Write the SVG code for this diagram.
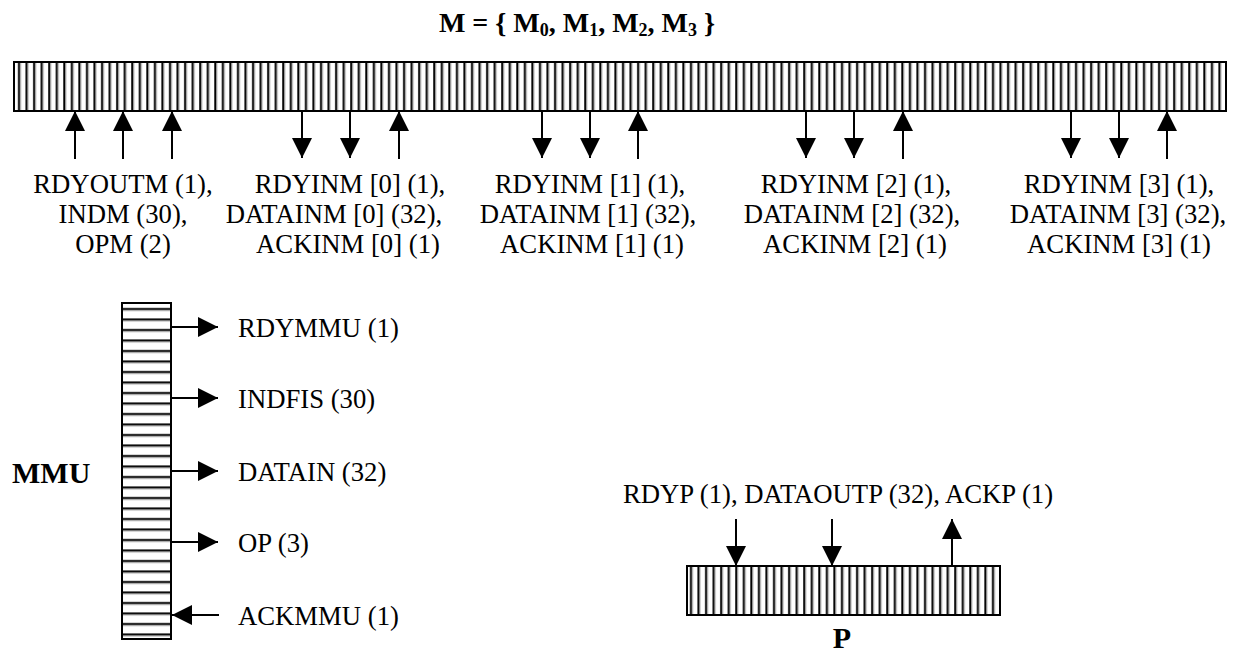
<svg xmlns="http://www.w3.org/2000/svg" width="1240" height="655" viewBox="0 0 1240 655">
<style>
.lbl{font-family:"Liberation Serif","Times New Roman",serif;font-size:26.7px;fill:#000}
.bold{font-family:"Liberation Serif","Times New Roman",serif;font-size:30px;font-weight:bold;fill:#000}
.title{font-family:"Liberation Serif","Times New Roman",serif;font-size:28px;font-weight:bold;fill:#000}
.bar{stroke:#000;stroke-width:2}
.wire{stroke:#000;stroke-width:2;fill:none}
</style>
<defs>
<pattern id="vstripe" patternUnits="userSpaceOnUse" x="14" y="0" width="7.55" height="20">
<rect width="7.55" height="20" fill="#fff"/>
<rect x="4" y="0" width="2" height="20" fill="#000"/>
<rect x="6" y="0" width="0.9" height="20" fill="#888"/>
</pattern>
<pattern id="hstripe" patternUnits="userSpaceOnUse" x="0" y="303" width="20" height="10.5">
<rect width="20" height="10.5" fill="#fff"/>
<rect x="0" y="5" width="20" height="2" fill="#000"/>
<rect x="0" y="7" width="20" height="0.9" fill="#888"/>
</pattern>
<marker id="ah" viewBox="0 0 20 20" refX="20" refY="10" markerWidth="20" markerHeight="20" markerUnits="userSpaceOnUse" orient="auto">
<path d="M0,0 L20,10 L0,20 Z" fill="#000"/>
</marker>
</defs>

<text class="title" x="577" y="32" text-anchor="middle">M = { M<tspan font-size="18" dy="4">0</tspan><tspan dy="-4">, M</tspan><tspan font-size="18" dy="4">1</tspan><tspan dy="-4">, M</tspan><tspan font-size="18" dy="4">2</tspan><tspan dy="-4">, M</tspan><tspan font-size="18" dy="4">3</tspan><tspan dy="-4"> }</tspan></text>

<g id="M">
<rect class="bar" x="14" y="62" width="1212" height="49" fill="url(#vstripe)"/>
</g>

<g id="MMU">
<rect class="bar" x="122" y="303" width="49" height="336" fill="url(#hstripe)"/>
<text class="bold" x="12" y="483">MMU</text>
</g>

<g id="P">
<rect class="bar" x="687" y="566" width="313" height="49" fill="url(#vstripe)"/>
<text class="bold" x="842" y="648" text-anchor="middle">P</text>
</g>

<g id="connectors">
<line class="wire" x1="75" y1="159" x2="75" y2="111" marker-end="url(#ah)"/>
<line class="wire" x1="123" y1="159" x2="123" y2="111" marker-end="url(#ah)"/>
<line class="wire" x1="172" y1="159" x2="172" y2="111" marker-end="url(#ah)"/>
<line class="wire" x1="302" y1="111" x2="302" y2="158" marker-end="url(#ah)"/>
<line class="wire" x1="350" y1="111" x2="350" y2="158" marker-end="url(#ah)"/>
<line class="wire" x1="399" y1="159" x2="399" y2="111" marker-end="url(#ah)"/>
<line class="wire" x1="542" y1="111" x2="542" y2="158" marker-end="url(#ah)"/>
<line class="wire" x1="590" y1="111" x2="590" y2="158" marker-end="url(#ah)"/>
<line class="wire" x1="638" y1="159" x2="638" y2="111" marker-end="url(#ah)"/>
<line class="wire" x1="806" y1="111" x2="806" y2="158" marker-end="url(#ah)"/>
<line class="wire" x1="854" y1="111" x2="854" y2="158" marker-end="url(#ah)"/>
<line class="wire" x1="903" y1="159" x2="903" y2="111" marker-end="url(#ah)"/>
<line class="wire" x1="1071" y1="111" x2="1071" y2="158" marker-end="url(#ah)"/>
<line class="wire" x1="1119" y1="111" x2="1119" y2="158" marker-end="url(#ah)"/>
<line class="wire" x1="1167" y1="159" x2="1167" y2="111" marker-end="url(#ah)"/>
<line class="wire" x1="171" y1="327" x2="218" y2="327" marker-end="url(#ah)"/>
<line class="wire" x1="171" y1="398" x2="218" y2="398" marker-end="url(#ah)"/>
<line class="wire" x1="171" y1="471" x2="218" y2="471" marker-end="url(#ah)"/>
<line class="wire" x1="171" y1="542" x2="218" y2="542" marker-end="url(#ah)"/>
<line class="wire" x1="219" y1="615" x2="172" y2="615" marker-end="url(#ah)"/>
<line class="wire" x1="736" y1="519" x2="736" y2="566" marker-end="url(#ah)"/>
<line class="wire" x1="832" y1="519" x2="832" y2="566" marker-end="url(#ah)"/>
<line class="wire" x1="952" y1="566" x2="952" y2="519" marker-end="url(#ah)"/>
</g>

<g id="labels">
<text class="lbl" text-anchor="middle"><tspan x="123" y="193">RDYOUTM (1),</tspan><tspan x="123" y="223">INDM (30),</tspan><tspan x="123" y="253">OPM (2)</tspan></text>
<text class="lbl" text-anchor="middle"><tspan x="350" y="193">RDYINM [0] (1),</tspan><tspan x="334" y="223">DATAINM [0] (32),</tspan><tspan x="348" y="253">ACKINM [0] (1)</tspan></text>
<text class="lbl" text-anchor="middle"><tspan x="590" y="193">RDYINM [1] (1),</tspan><tspan x="588" y="223">DATAINM [1] (32),</tspan><tspan x="592" y="253">ACKINM [1] (1)</tspan></text>
<text class="lbl" text-anchor="middle"><tspan x="856" y="193">RDYINM [2] (1),</tspan><tspan x="852" y="223">DATAINM [2] (32),</tspan><tspan x="855" y="253">ACKINM [2] (1)</tspan></text>
<text class="lbl" text-anchor="middle"><tspan x="1119" y="193">RDYINM [3] (1),</tspan><tspan x="1118" y="223">DATAINM [3] (32),</tspan><tspan x="1119" y="253">ACKINM [3] (1)</tspan></text>
<text class="lbl" x="238" y="337">RDYMMU (1)</text>
<text class="lbl" x="238" y="408">INDFIS (30)</text>
<text class="lbl" x="238" y="481">DATAIN (32)</text>
<text class="lbl" x="238" y="552">OP (3)</text>
<text class="lbl" x="238" y="625">ACKMMU (1)</text>
<text class="lbl" x="838" y="503" text-anchor="middle">RDYP (1), DATAOUTP (32), ACKP (1)</text>
</g>
</svg>
